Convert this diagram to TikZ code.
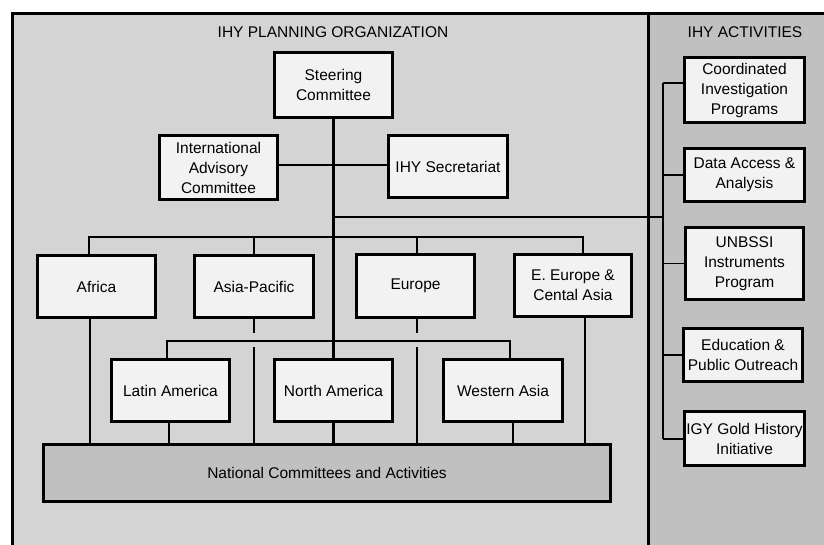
\documentclass[tikz,border=0pt]{standalone}
\usepackage{fontspec}
\setmainfont{Liberation Sans}
\usetikzlibrary{calc}
\definecolor{leftbg}{RGB}{212,212,212}
\definecolor{rightbg}{RGB}{192,192,192}
\definecolor{boxfill}{RGB}{242,242,242}
\definecolor{natfill}{RGB}{192,192,192}
\tikzset{
  orgbox/.style={draw=black, line width=3pt, fill=boxfill, rectangle, align=center,
    inner sep=0pt, font=\fontsize{15.5}{20}\selectfont},
  natbox/.style={orgbox, fill=natfill},
  thick line/.style={line width=2.4pt, black},
  thin line/.style={line width=1.3pt, black},
  paneltitle/.style={font=\fontsize{15.5}{18}\selectfont, inner sep=0pt},
}
\begin{document}
\begin{tikzpicture}[x=1pt, y=-1pt]
\useasboundingbox (0,0) rectangle (824,545);
% panels
\begin{scope}
\clip (0,0) rectangle (824,545);
\fill[white] (0,0) rectangle (824,545);
\fill[leftbg] (12,14) rectangle (648,560);
\fill[rightbg] (648,14) rectangle (840,560);
\draw[line width=3pt] (840,14) -- (12,14) -- (12,560);
\draw[line width=3pt] (648,14) -- (648,560);
\end{scope}
% titles
\node[paneltitle] (t1) at (333,32) {IHY PLANNING ORGANIZATION};
\node[paneltitle] (t2) at (745,32) {IHY ACTIVITIES};
% junction coordinates
\coordinate (j1) at (334,165);
\coordinate (j2) at (334,217);
\coordinate (j3) at (334,237);
\coordinate (rb) at (663,217);
\coordinate (rtop) at (663,83);
\coordinate (rbot) at (663,439);
\coordinate (bl) at (89,237);
\coordinate (br) at (583,237);
\coordinate (sl) at (167,341);
\coordinate (sr) at (510,341);
% boxes
\node[orgbox, minimum width=118pt, minimum height=65pt] (steer) at (333.5,85) {Steering\\Committee};
\node[orgbox, minimum width=118pt, minimum height=64pt] (iac) at (218.5,167.5) {International\\Advisory\\Committee};
\node[orgbox, minimum width=119pt, minimum height=62pt] (sec) at (448,166.5) {IHY Secretariat};
\node[orgbox, minimum width=118pt, minimum height=62pt] (africa) at (96.5,286.5) {Africa};
\node[orgbox, minimum width=119pt, minimum height=62pt] (asia) at (254,286.5) {Asia-Pacific};
\node[orgbox, minimum width=118pt, minimum height=62pt] (europe) at (415.5,286) {Europe};
\node[orgbox, minimum width=117pt, minimum height=62pt] (eeur) at (573,285.5) {E. Europe \&\\Cental Asia};
\node[orgbox, minimum width=118pt, minimum height=62pt] (latin) at (170.5,390.5) {Latin America};
\node[orgbox, minimum width=118pt, minimum height=62pt] (north) at (333.5,390.5) {North America};
\node[orgbox, minimum width=119pt, minimum height=62pt] (west) at (503,390.5) {Western Asia};
\node[natbox, minimum width=567pt, minimum height=57pt] (natl) at (327,473) {National Committees and Activities};
\node[orgbox, minimum width=120pt, minimum height=65pt] (coord) at (744.5,90) {Coordinated\\Investigation\\Programs};
\node[orgbox, minimum width=120pt, minimum height=53pt] (data) at (744.5,175) {Data Access \&\\Analysis};
\node[orgbox, minimum width=118pt, minimum height=72pt] (unb) at (744.5,263.5) {UNBSSI\\Instruments\\Program};
\node[orgbox, minimum width=119pt, minimum height=53pt] (edu) at (743,355) {Education \&\\Public Outreach};
\node[orgbox, minimum width=120pt, minimum height=54pt] (igy) at (744.5,438.5) {IGY Gold History\\Initiative};
% main spine
\draw[thick line] (steer.south) -- (north.north);
\draw[thick line] (iac.east |- j1) -- (sec.west |- j1);
% link to activities
\draw[thin line] (j2) -- (rb);
\draw[thin line] (rtop) -- (rbot);
\draw[thin line] (rtop) -- (coord.west |- rtop);
\draw[thin line] (rb |- data.west) -- (data.west);
\draw[thin line] (rb |- unb.west) -- (unb.west);
\draw[thin line] (rb |- edu.west) -- (edu.west);
\draw[thin line] (rbot) -- (igy.west |- rbot);
% top row bracket
\draw[thick line] (bl |- africa.north) -- (bl) -- (br) -- (br |- eeur.north);
\draw[thin line] (asia.north |- j3) -- (asia.north);
\draw[thin line] (417,237) -- (417,253);
% second row bracket
\draw[thin line] (latin.north -| sl) -- (sl) -- (sr) -- (sr |- west.north);
% verticals down to national committees
\draw[thin line] (90,319) -- (90,443);
\draw[thin line] (585,318) -- (585,443);
\draw[thin line] (asia.south) -- (asia.south |- 0,333);
\draw[thin line] (asia.south |- 0,347) -- (asia.south |- natl.north);
\draw[thin line] (417,317) -- (417,333);
\draw[thin line] (417,347) -- (417,443);
\draw[thin line] (169,423) -- (169,443);
\draw[thick line] (north.south) -- (north.south |- natl.north);
\draw[thin line] (513,423) -- (513,443);
\end{tikzpicture}
\end{document}
